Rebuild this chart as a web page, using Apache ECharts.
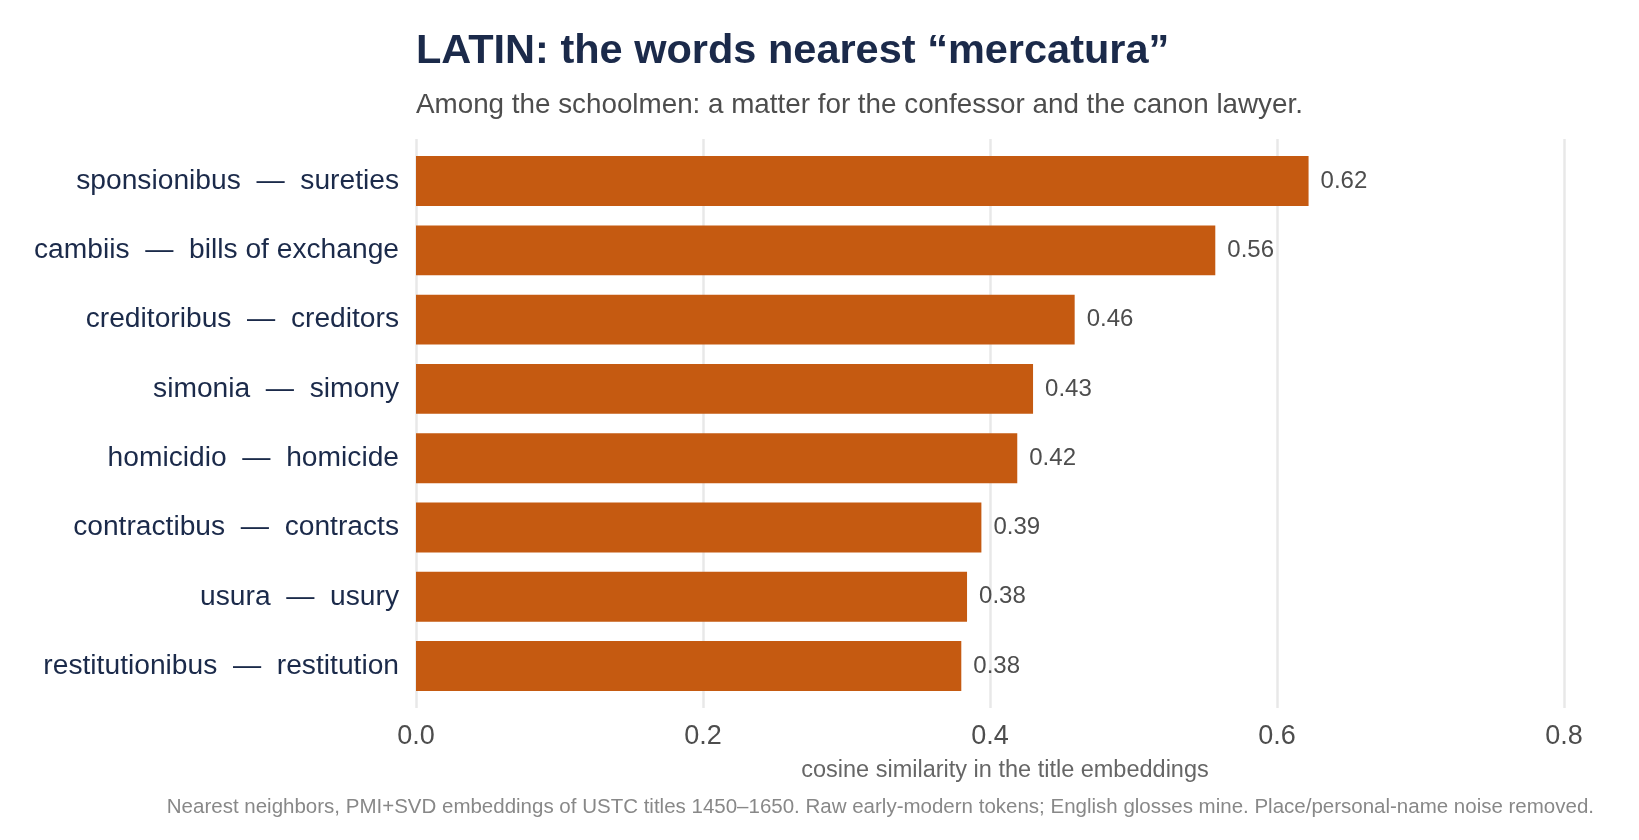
<!DOCTYPE html>
<html>
<head>
<meta charset="utf-8">
<script src="https://cdn.jsdelivr.net/npm/echarts@6/dist/echarts.min.js"></script>
<style>
  html, body { margin: 0; padding: 0; background: #fff; }
  #chart { width: 1639px; height: 840px; }
</style>
</head>
<body>
<div id="chart"></div>
<script>
// top to bottom, as in the picture
var words = [
    "sponsionibus  \u2014  sureties",
    "cambiis  \u2014  bills of exchange",
    "creditoribus  \u2014  creditors",
    "simonia  \u2014  simony",
    "homicidio  \u2014  homicide",
    "contractibus  \u2014  contracts",
    "usura  \u2014  usury",
    "restitutionibus  \u2014  restitution"
];
var similarity = [0.622, 0.557, 0.459, 0.430, 0.419, 0.394, 0.384, 0.380];
var xTicks = [0, 0.2, 0.4, 0.6, 0.8];

var font = "Liberation Sans";
var navy = "#1b2a4a";
var grey = "#4d4d4d";

var chart = echarts.init(document.getElementById('chart'));
var option = {
    backgroundColor: '#fff',
    animation: false,
    textStyle: { fontFamily: font },
    title: [
        {
            text: 'LATIN: the words nearest \u201cmercatura\u201d',
            left: 416, top: 31, padding: 0,
            textStyle: { fontFamily: font, fontSize: 41.5, fontWeight: 'bold', color: navy }
        },
        {
            text: 'Among the schoolmen: a matter for the confessor and the canon lawyer.',
            left: 416, top: 91, padding: 0,
            textStyle: { fontFamily: font, fontSize: 27.8, fontWeight: 'normal', color: grey }
        },
        {
            text: 'cosine similarity in the title embeddings',
            left: 1005, top: 759, padding: 0, textAlign: 'center',
            textStyle: { fontFamily: font, fontSize: 23.5, fontWeight: 'normal', color: '#666' }
        },
        {
            text: 'Nearest neighbors, PMI+SVD embeddings of USTC titles 1450\u20131650. Raw early-modern tokens; English glosses mine. Place/personal-name noise removed.',
            right: 45, top: 797, padding: 0,
            textStyle: { fontFamily: font, fontSize: 20.5, fontWeight: 'normal', color: '#888' }
        }
    ],
    grid: [
        // panel with the gridlines and x labels
        { left: 416, right: 75, top: 139, bottom: 132 },
        // bars
        { left: 416, right: 75, top: 146.4, bottom: 139.3 }
    ],
    xAxis: [
        {
            gridIndex: 0, type: 'value', min: 0, max: 0.8, interval: 0.2,
            axisLine: { show: false }, axisTick: { show: false },
            axisLabel: {
                fontFamily: font, fontSize: 27, color: grey, margin: 15,
                formatter: function (v) { return v.toFixed(1); }
            },
            splitLine: { show: true, lineStyle: { color: '#e8e8e8', width: 2.5 } }
        },
        {
            gridIndex: 1, type: 'value', min: 0, max: 0.8, show: false,
            splitLine: { show: false }
        }
    ],
    yAxis: [
        { gridIndex: 0, type: 'value', min: 0, max: 1, show: false, splitLine: { show: false } },
        {
            gridIndex: 1, type: 'category', data: words, inverse: true,
            axisLine: { show: false }, axisTick: { show: false },
            axisLabel: {
                fontFamily: font, fontSize: 28.2, color: navy, margin: 17,
                verticalAlign: 'middle', lineHeight: 28, padding: [8, 0, 0, 0]
            }
        }
    ],
    series: [
        {
            type: 'bar',
            xAxisIndex: 1, yAxisIndex: 1,
            data: similarity,
            barCategoryGap: '28%',
            itemStyle: { color: '#c55a11' },
            label: {
                show: true, position: 'right', distance: 12,
                fontFamily: font, fontSize: 24, color: grey,
                padding: [6, 0, 0, 0],
                formatter: function (p) { return p.value.toFixed(2); }
            }
        }
    ]
};
chart.setOption(option);
</script>
</body>
</html>
